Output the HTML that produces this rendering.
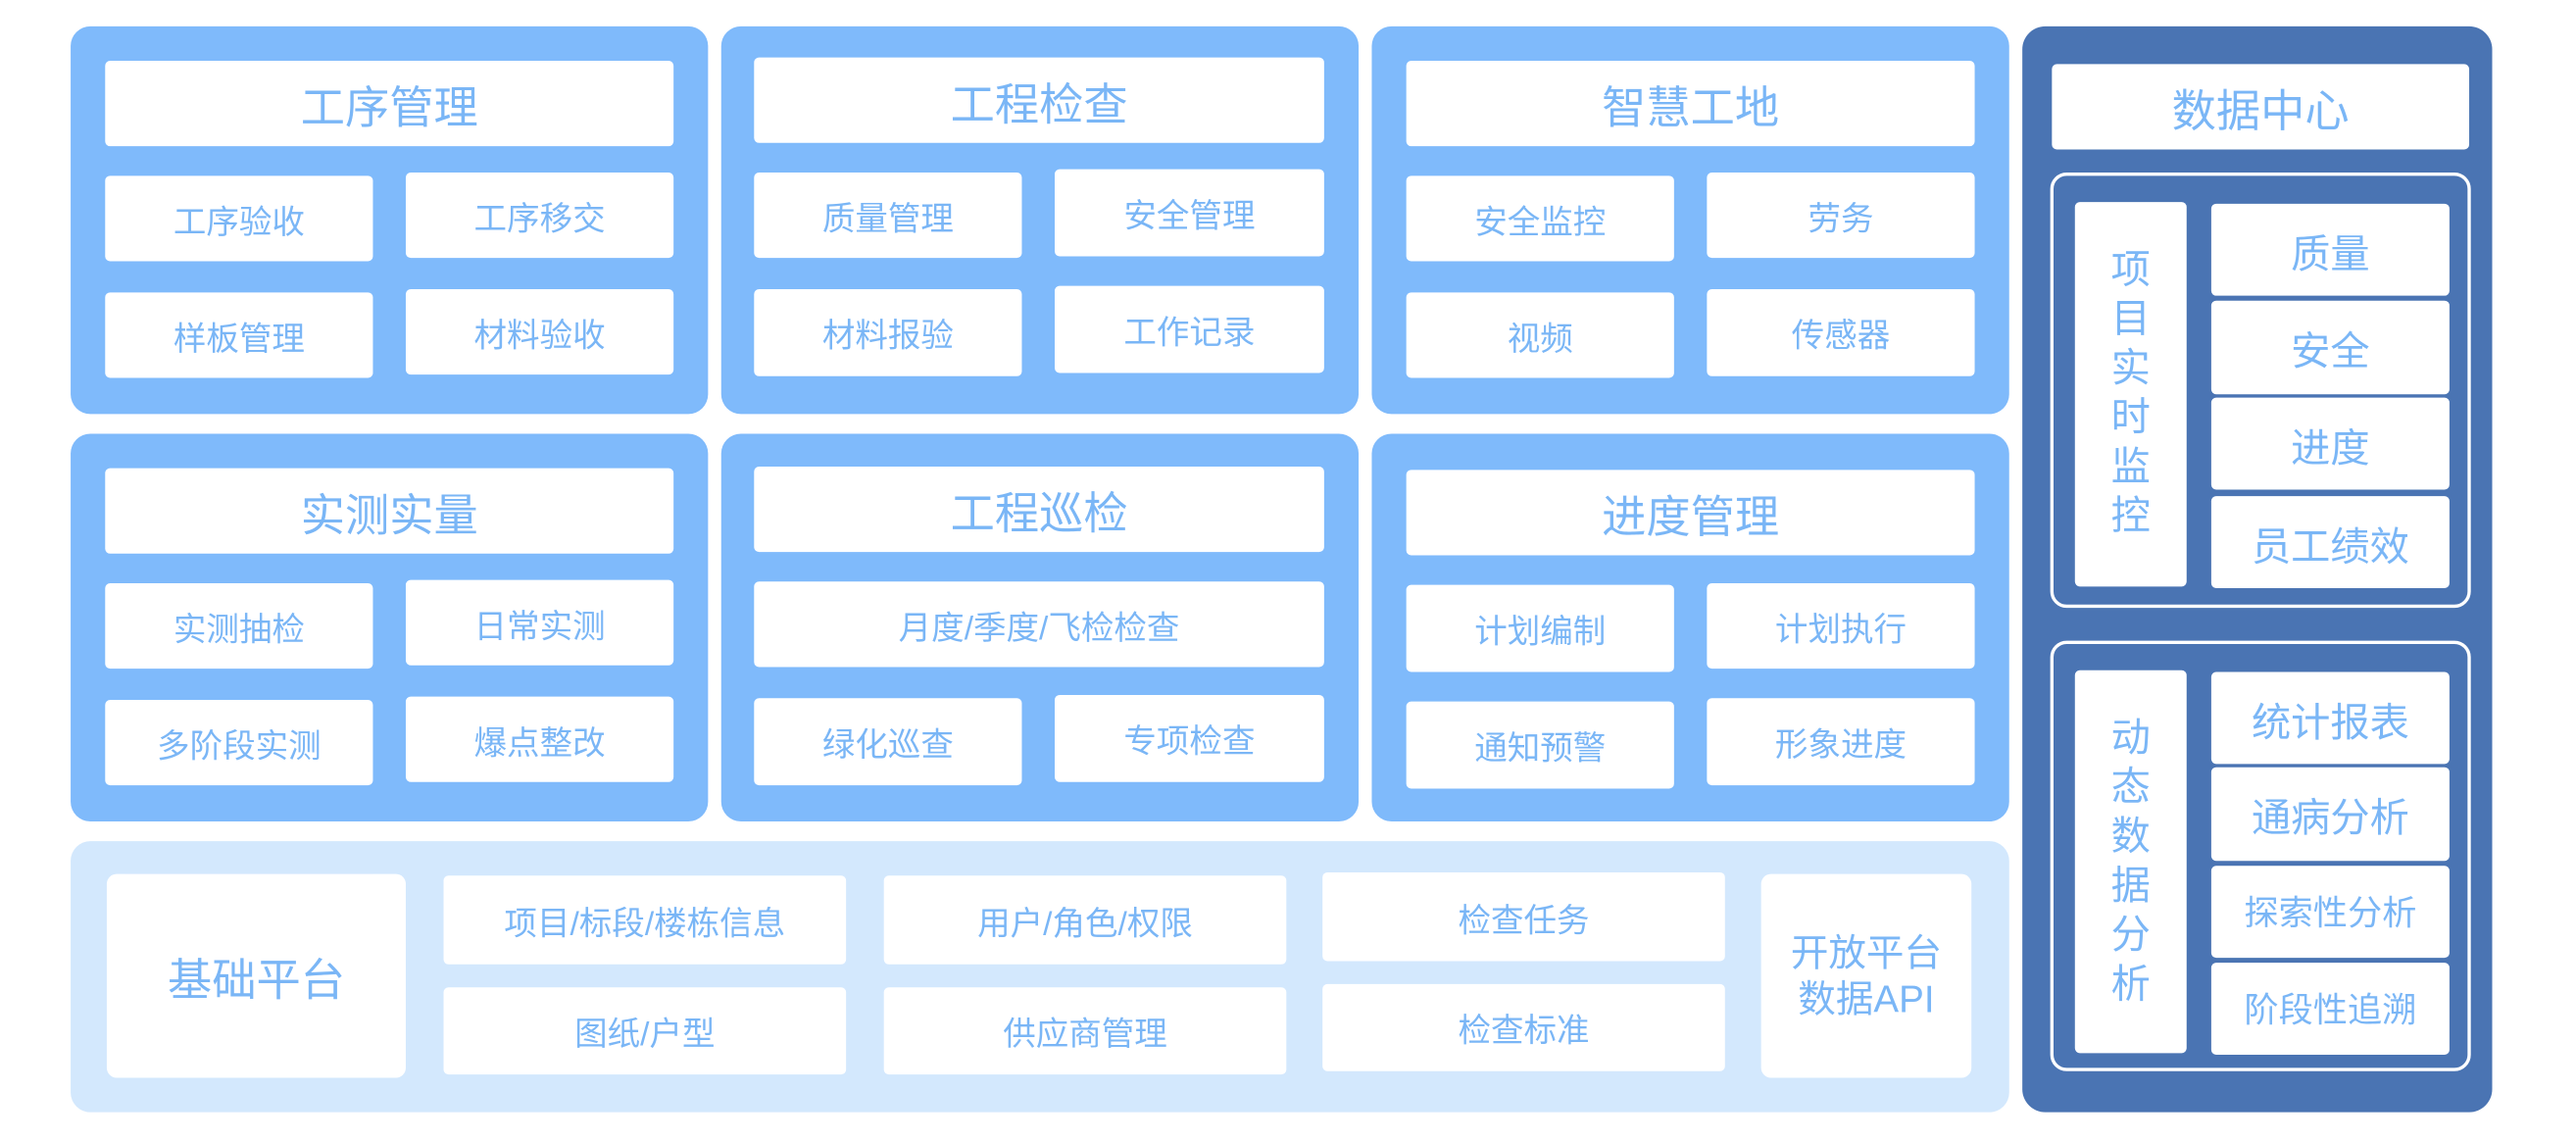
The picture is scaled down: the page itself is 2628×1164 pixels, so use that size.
<!DOCTYPE html>
<html><head><meta charset="utf-8"><style>
html,body{margin:0;padding:0;background:#fff;width:2628px;height:1164px;overflow:hidden}
#s{position:absolute;left:0;top:0;width:1568px;height:694.5px;transform:scale(1.676);transform-origin:0 0;font-family:"Liberation Sans","Noto Sans CJK SC",sans-serif;color:#7ab6f6}
.p{position:absolute;background:#7fbafb;border-radius:12px}
.b{position:absolute;background:#fff;border-radius:3px;display:flex;align-items:center;justify-content:center;font-size:20px;white-space:nowrap}
.t{font-size:27px}
.d{font-size:24px}
.o{position:absolute;border:2px solid #fff;border-radius:10px;box-sizing:border-box}
.v{font-size:24px;line-height:30px;text-align:center;white-space:normal;width:26px;flex-direction:column}
</style></head><body><div id="s">
<div class="p" style="left:43px;top:16px;width:388px;height:236px"></div>
<div class="p" style="left:439px;top:16px;width:388px;height:236px"></div>
<div class="p" style="left:835px;top:16px;width:388px;height:236px"></div>
<div class="p" style="left:43px;top:264px;width:388px;height:236px"></div>
<div class="p" style="left:439px;top:264px;width:388px;height:236px"></div>
<div class="p" style="left:835px;top:264px;width:388px;height:236px"></div>
<div class="p" style="left:43px;top:512px;width:1180px;height:165px;background:#d3e8fd"></div>
<div class="p" style="left:1231px;top:16px;width:286px;height:661px;background:#4a74b3;border-radius:14px"></div>

<div class="b t" style="left:64px;top:37px;width:346px;height:52px">工序管理</div>
<div class="b" style="left:64px;top:107px;width:163px;height:52px">工序验收</div>
<div class="b" style="left:247px;top:105px;width:163px;height:52px">工序移交</div>
<div class="b" style="left:64px;top:178px;width:163px;height:52px">样板管理</div>
<div class="b" style="left:247px;top:176px;width:163px;height:52px">材料验收</div>

<div class="b t" style="left:459px;top:35px;width:347px;height:52px">工程检查</div>
<div class="b" style="left:459px;top:105px;width:163px;height:52px">质量管理</div>
<div class="b" style="left:642px;top:103px;width:164px;height:53px">安全管理</div>
<div class="b" style="left:459px;top:176px;width:163px;height:53px">材料报验</div>
<div class="b" style="left:642px;top:174px;width:164px;height:53px">工作记录</div>

<div class="b t" style="left:856px;top:37px;width:346px;height:52px">智慧工地</div>
<div class="b" style="left:856px;top:107px;width:163px;height:52px">安全监控</div>
<div class="b" style="left:1039px;top:105px;width:163px;height:52px">劳务</div>
<div class="b" style="left:856px;top:178px;width:163px;height:52px">视频</div>
<div class="b" style="left:1039px;top:176px;width:163px;height:53px">传感器</div>

<div class="b t" style="left:64px;top:285px;width:346px;height:52px">实测实量</div>
<div class="b" style="left:64px;top:355px;width:163px;height:52px">实测抽检</div>
<div class="b" style="left:247px;top:353px;width:163px;height:52px">日常实测</div>
<div class="b" style="left:64px;top:426px;width:163px;height:52px">多阶段实测</div>
<div class="b" style="left:247px;top:424px;width:163px;height:52px">爆点整改</div>

<div class="b t" style="left:459px;top:284px;width:347px;height:52px">工程巡检</div>
<div class="b" style="left:459px;top:354px;width:347px;height:52px">月度/季度/飞检检查</div>
<div class="b" style="left:459px;top:425px;width:163px;height:53px">绿化巡查</div>
<div class="b" style="left:642px;top:423px;width:164px;height:53px">专项检查</div>

<div class="b t" style="left:856px;top:286px;width:346px;height:52px">进度管理</div>
<div class="b" style="left:856px;top:356px;width:163px;height:53px">计划编制</div>
<div class="b" style="left:1039px;top:355px;width:163px;height:52px">计划执行</div>
<div class="b" style="left:856px;top:427px;width:163px;height:53px">通知预警</div>
<div class="b" style="left:1039px;top:425px;width:163px;height:53px">形象进度</div>

<div class="b t" style="left:65px;top:532px;width:182px;height:124px;border-radius:6px">基础平台</div>
<div class="b" style="left:270px;top:533px;width:245px;height:54px">项目/标段/楼栋信息</div>
<div class="b" style="left:270px;top:601px;width:245px;height:53px">图纸/户型</div>
<div class="b" style="left:538px;top:533px;width:245px;height:54px">用户/角色/权限</div>
<div class="b" style="left:538px;top:601px;width:245px;height:53px">供应商管理</div>
<div class="b" style="left:805px;top:531px;width:245px;height:54px">检查任务</div>
<div class="b" style="left:805px;top:599px;width:245px;height:53px">检查标准</div>
<div class="b" style="left:1072px;top:532px;width:128px;height:124px;border-radius:6px;font-size:23px;line-height:28px;text-align:center;white-space:normal">开放平台<br>数据API</div>

<div class="b t" style="left:1249px;top:39px;width:254px;height:52px">数据中心</div>
<div class="o" style="left:1248px;top:105px;width:256px;height:265px"></div>
<div class="b" style="left:1263px;top:123px;width:68px;height:234px"><div class="v">项目实时监控</div></div>
<div class="b d" style="left:1346px;top:124px;width:145px;height:56px">质量</div>
<div class="b d" style="left:1346px;top:183px;width:145px;height:57px">安全</div>
<div class="b d" style="left:1346px;top:242px;width:145px;height:56px">进度</div>
<div class="b d" style="left:1346px;top:302px;width:145px;height:56px">员工绩效</div>
<div class="o" style="left:1248px;top:390px;width:256px;height:262px"></div>
<div class="b" style="left:1263px;top:408px;width:68px;height:233px"><div class="v">动态数据分析</div></div>
<div class="b d" style="left:1346px;top:409px;width:145px;height:56px">统计报表</div>
<div class="b d" style="left:1346px;top:467px;width:145px;height:57px">通病分析</div>
<div class="b" style="left:1346px;top:527px;width:145px;height:56px;font-size:21px">探索性分析</div>
<div class="b" style="left:1346px;top:586px;width:145px;height:56px;font-size:21px">阶段性追溯</div>
</div></body></html>
